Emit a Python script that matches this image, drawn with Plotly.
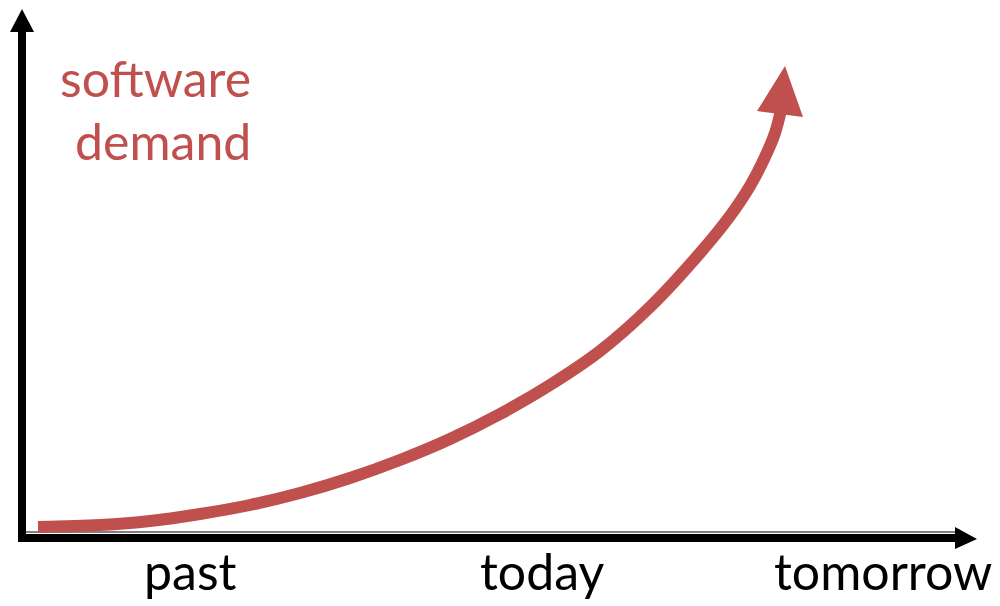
import plotly.graph_objects as go

# Conceptual chart: time (x) vs software demand (y); origin at the axis corner
time_vals = [38, 100, 150, 200, 250, 300, 350, 400, 450, 500, 550, 600, 650, 700, 730, 750, 765, 775, 781]
demand_vals = [11, 13, 17, 24, 33, 45, 60, 78, 99, 124, 153, 187, 231, 285, 322, 352, 381, 405, 428]

# arrowhead at the end of the demand curve (tip, left base, right base)
head_x = [785, 757, 803]
head_y = [472, 427, 421]

tick_labels = ["past", "today", "tomorrow"]
tick_positions = [190, 542, 883]

title_lines = ["software", "demand"]

RED = "#C0504D"
FONT = "Lato, 'Open Sans', sans-serif"

fig = go.Figure()

fig.add_trace(go.Scatter(
    x=time_vals, y=demand_vals, mode="lines",
    line=dict(color=RED, width=12, shape="spline", smoothing=1.0),
    hoverinfo="skip", showlegend=False,
))
fig.add_trace(go.Scatter(
    x=head_x + [head_x[0]], y=head_y + [head_y[0]], mode="lines",
    fill="toself", fillcolor=RED, line=dict(color=RED, width=0),
    hoverinfo="skip", showlegend=False,
))

shapes = []
# gray edge above x axis
shapes.append(dict(type="line", xref="x", yref="y", x0=20, x1=955, y0=6, y1=6,
                   line=dict(color="#808080", width=2), layer="below"))
# x axis
shapes.append(dict(type="line", xref="x", yref="y", x0=18, x1=958, y0=0, y1=0,
                   line=dict(color="black", width=8), layer="below"))
shapes.append(dict(type="path", xref="x", yref="y",
                   path="M 977,-1 L 955,11 L 955,-11 Z",
                   fillcolor="black", line=dict(color="black", width=0), layer="below"))
# y axis
shapes.append(dict(type="line", xref="x", yref="y", x0=22, x1=22, y0=-3, y1=508,
                   line=dict(color="black", width=8), layer="below"))
shapes.append(dict(type="path", xref="x", yref="y",
                   path="M 22,529 L 10,506 L 34,506 Z",
                   fillcolor="black", line=dict(color="black", width=0), layer="below"))

annotations = []
for lab, pos in zip(tick_labels, tick_positions):
    annotations.append(dict(x=pos, y=-33, xref="x", yref="y", text=lab, showarrow=False,
                            xanchor="center", yanchor="middle",
                            font=dict(family=FONT, size=50, color="black")))
for line_txt, yy in zip(title_lines, [460, 397]):
    annotations.append(dict(x=253, y=yy, xref="x", yref="y", text=line_txt, showarrow=False,
                            xanchor="right", yanchor="middle",
                            font=dict(family=FONT, size=50, color=RED)))

# The page body has an 8px margin, so the figure starts at page pixel (8, 8);
# axis ranges are set so that the time/demand coordinates line up with the picture.
fig.update_layout(
    width=984, height=598, autosize=False,
    margin=dict(l=0, r=0, t=0, b=0, pad=0),
    paper_bgcolor="white", plot_bgcolor="white",
    xaxis=dict(range=[8, 992], visible=False, fixedrange=True),
    yaxis=dict(range=[-68, 530], visible=False, fixedrange=True),
    shapes=shapes, annotations=annotations,
    showlegend=False, hovermode=False,
)

fig.write_html("out.html")
